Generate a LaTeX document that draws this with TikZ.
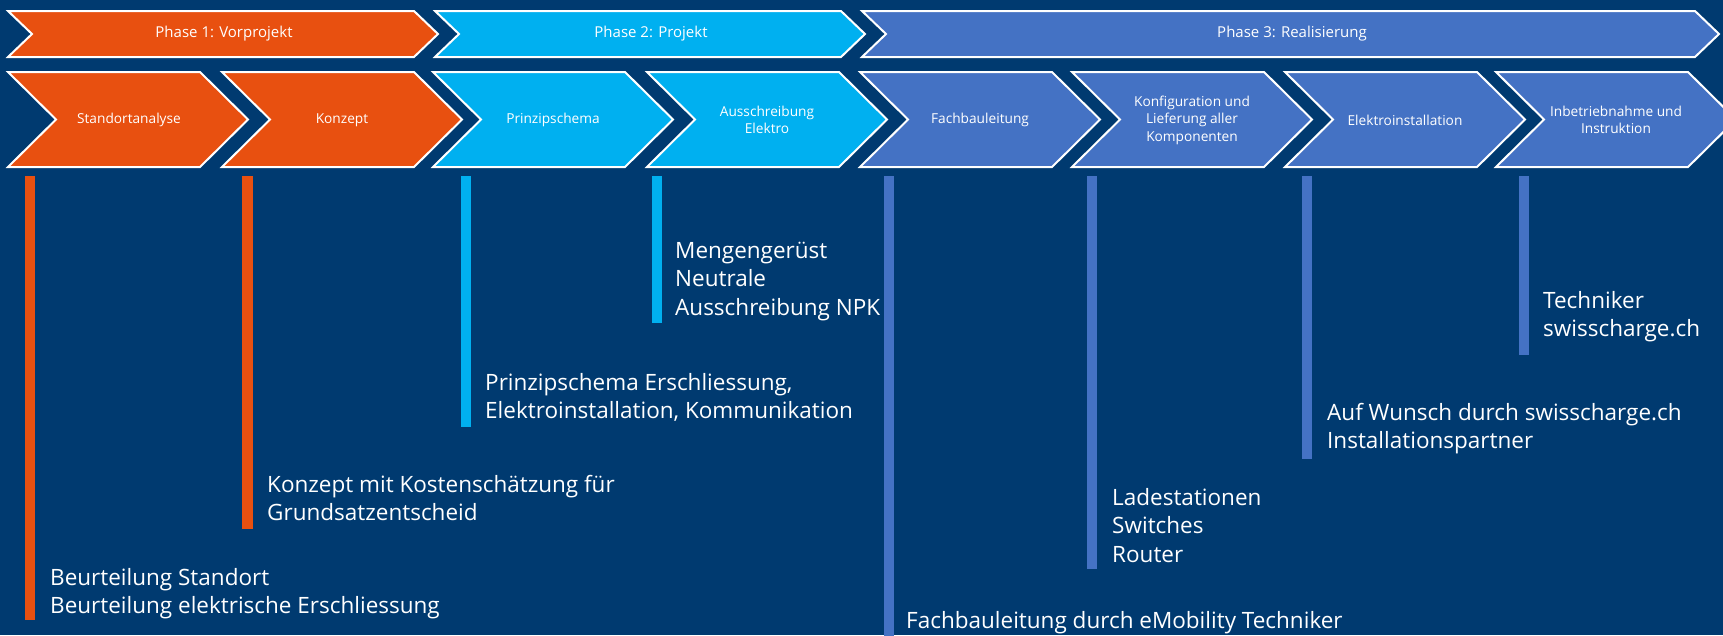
\documentclass[tikz,border=0pt]{standalone}
\usepackage{fontspec}
\setmainfont{Open Sans}
\definecolor{bg}{RGB}{0,58,112}
\definecolor{cOr}{RGB}{232,80,16}
\definecolor{cCy}{RGB}{0,176,240}
\definecolor{cBl}{RGB}{68,114,196}
\newcommand\stepchev[2]{\filldraw[fill=#2,draw=white,line width=2pt] (#1,72) -- ++(192,0) -- ++(48,47.5) -- ++(-48,47.5) -- ++(-192,0) -- ++(48,-47.5) -- cycle;}
\newcommand\phasechev[3]{\filldraw[fill=#3,draw=white,line width=2pt] (#1,11) -- (#2-24,11) -- (#2,34) -- (#2-24,57) -- (#1,57) -- (#1+24,34) -- cycle;}
\newcommand\twoL[2]{\vtop{\hbox{#1}\hbox{#2}}}
\newcommand\threeL[3]{\vtop{\hbox{#1}\hbox{#2}\hbox{#3}}}
\begin{document}
\begin{tikzpicture}[x=1pt,y=-1pt,
  steplabel/.style={text=white,align=center,inner sep=0pt,font=\fontsize{13.7}{17.5}\selectfont},
  phaselabel/.style={text=white,inner sep=0pt,font=\fontsize{15}{18}\selectfont},
  desc/.style={text=white,anchor=base west,inner sep=0pt,font=\fontsize{22.5}{28.7}\selectfont}]
\useasboundingbox (0,0) rectangle (1723,635);
\clip (0,0) rectangle (1723,635);
\fill[bg] (0,0) rectangle (1723,635);
% phases
\phasechev{8}{438}{cOr}
\phasechev{435}{865}{cCy}
\phasechev{862}{1719}{cBl}
\node[phaselabel] (p1) at (224,34) {Phase 1: Vorprojekt};
\node[phaselabel] (p2) at (651,34) {Phase 2: Projekt};
\node[phaselabel] (p3) at (1292,34) {Phase 3: Realisierung};
% steps
\stepchev{8}{cOr}
\stepchev{222}{cOr}
\stepchev{433}{cCy}
\stepchev{647}{cCy}
\stepchev{860}{cBl}
\stepchev{1072}{cBl}
\stepchev{1285}{cBl}
\stepchev{1496}{cBl}
\node[steplabel] (s1) at (129,120) {Standortanalyse};
\node[steplabel] (s2) at (342,120) {Konzept};
\node[steplabel] (s3) at (553,120) {Prinzipschema};
\node[steplabel] (s4) at (767,120) {Ausschreibung\\Elektro};
\node[steplabel] (s5) at (980,120) {Fachbauleitung};
\node[steplabel] (s6) at (1192,120) {Konfiguration und\\Lieferung aller\\Komponenten};
\node[steplabel] (s7) at (1405,120) {Elektroinstallation};
\node[steplabel] (s8) at (1616,120) {Inbetriebnahme und\\Instruktion};
% bars
\fill[cOr] (25,176) rectangle (35,620);
\fill[cOr] (242,176) rectangle (253,529);
\fill[cCy] (461,176) rectangle (471,427);
\fill[cCy] (652,176) rectangle (662,323);
\fill[cBl] (884,176) rectangle (894,640);
\fill[cBl] (1087,176) rectangle (1097,569);
\fill[cBl] (1302,176) rectangle (1312,459);
\fill[cBl] (1519,176) rectangle (1529,355);
% descriptions
\node[desc] (d1) at (50,585) {\twoL{Beurteilung Standort}{Beurteilung elektrische Erschliessung}};
\node[desc] (d2) at (267,492) {\twoL{Konzept mit Kostenschätzung für}{Grundsatzentscheid}};
\node[desc] (d3) at (485,390) {\twoL{Prinzipschema Erschliessung,}{Elektroinstallation, Kommunikation}};
\node[desc] (d4) at (675,258) {\threeL{Mengengerüst}{Neutrale}{Ausschreibung NPK}};
\node[desc] (d5) at (906,628) {Fachbauleitung durch eMobility Techniker};
\node[desc] (d6) at (1112,505) {\threeL{Ladestationen}{Switches}{Router}};
\node[desc] (d7) at (1327,420) {\twoL{Auf Wunsch durch swisscharge.ch}{Installationspartner}};
\node[desc] (d8) at (1543,308) {\twoL{Techniker}{swisscharge.ch}};
\end{tikzpicture}
\end{document}
